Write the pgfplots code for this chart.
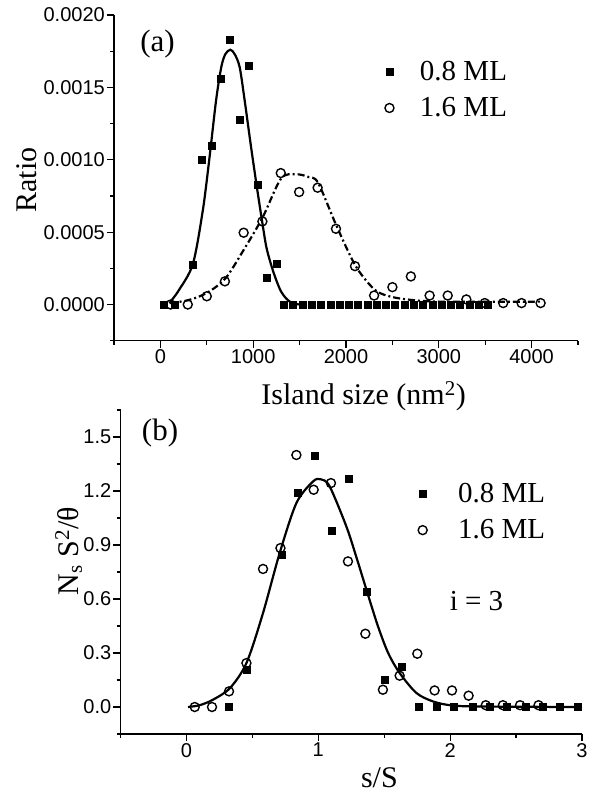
\documentclass[border=0pt]{standalone}
\usepackage{fontspec}
\setmainfont{Liberation Serif}
\setsansfont{Liberation Sans}
\usepackage{pgfplots}
\pgfplotsset{compat=1.18}

\pgfplotsset{
  myaxis/.style={
    scale only axis,
    axis lines*=left,
    tick align=outside,
    axis line style={line width=1.4pt},
    tick style={line width=1.2pt, black},
    major tick length=7pt,
    minor tick length=4pt,
    ticklabel style={font=\sffamily\fontsize{20}{24}\selectfont, inner sep=2pt},
    /pgf/number format/assume math mode=true,
    label style={font=\fontsize{30}{36}\selectfont},
    legend style={draw=none, fill=none, font=\fontsize{29}{35}\selectfont,
      inner sep=0pt, outer sep=0pt, row sep=12pt},
    legend cell align=left,
    clip=false,
  },
  sq/.style={only marks, mark=square*, mark size=3.5pt, black},
  ci/.style={only marks, mark=o, mark size=4.5pt, black, mark options={line width=1.4pt}},
}

\begin{document}
\begin{tikzpicture}
\useasboundingbox (0pt,0pt) rectangle (595pt,-795pt);

% ---------------- panel (a)
\begin{axis}[myaxis,
  at={(114pt,-340.7pt)}, anchor=south west,
  width=464pt, height=325.7pt,
  xmin=-500, xmax=4500, ymin=-0.00025, ymax=0.002,
  xtick={0,1000,2000,3000,4000}, xticklabels={0,1000,2000,3000,4000},
  minor xtick={-500,500,1500,2500,3500,4500},
  ytick={0,0.0005,0.001,0.0015,0.002},
  yticklabels={0.0000,0.0005,0.0010,0.0015,0.0020},
  minor ytick={-0.00025,0.00025,0.00075,0.00125,0.00175},
  scaled y ticks=false,
  xlabel={Island size (nm\textsuperscript{2})},
  ylabel={Ratio},
  xlabel style={at={(axis description cs:0.538,-0.197)}, anchor=base},
  ylabel style={at={(axis description cs:-0.166,0.493)}, anchor=base},
  legend style={at={(axis description cs:0.584,0.771)}, anchor=west, column sep=24pt},
]
\addplot[black, line width=2.2pt, smooth, forget plot] coordinates {
(97,0.00001) (200,0.0001) (350,0.00028) (457,0.00065) (530,0.00102) (600,0.00141)
(656,0.00164) (700,0.00173) (753,0.00176) (800,0.00173) (854,0.00164) (908,0.00141)
(970,0.00112) (1034,0.000835) (1090,0.0006) (1142,0.000396) (1200,0.00026)
(1250,0.000166) (1300,0.00009) (1358,0.00004) (1420,0.00001) (1500,0)};
\addplot[black, line width=2.2pt, smooth, dash pattern=on 7pt off 3pt on 2pt off 3pt, forget plot] coordinates {
(100,0.00001) (300,0.00003) (500,0.00008) (700,0.00018) (900,0.00038) (1100,0.0006)
(1300,0.00087) (1460,0.0009) (1600,0.00088) (1700,0.00084) (1900,0.00054) (2100,0.00027)
(2280,0.00012) (2400,0.00007) (2600,0.00004) (3000,0.00002) (4100,0.00002)};
\addplot[sq] coordinates {
(40,0) (150,0) (350,0.000275) (450,0.001) (550,0.0011) (650,0.00156) (750,0.00183)
(850,0.00128) (950,0.00165) (1050,0.00083) (1150,0.000185) (1250,0.00028)
(1330,0) (1430,0) (1530,0) (1630,0) (1730,0) (1830,0) (1930,0) (2030,0) (2130,0)
(2230,0) (2330,0) (2430,0) (2530,0) (2630,0) (2730,0) (2830,0) (2930,0) (3030,0)
(3130,0) (3230,0) (3330,0) (3430,0) (3530,0)};
\addlegendentry{0.8 ML}
\addplot[ci] coordinates {
(110,0) (295,0) (500,0.000057) (695,0.00016) (897,0.000496) (1099,0.000574)
(1297,0.000908) (1495,0.000777) (1694,0.000807) (1892,0.000523) (2097,0.000265)
(2303,0.000062) (2500,0.00012) (2699,0.000194) (2901,0.000062) (3096,0.000062)
(3297,0.000035) (3495,0.00001) (3694,0.00001) (3892,0.00001) (4097,0.00001)};
\addlegendentry{1.6 ML}
\node[font=\fontsize{31}{36}\selectfont] at (axis cs:-30,0.0018) {(a)};
\end{axis}

% ---------------- panel (b)
\begin{axis}[myaxis,
  at={(120.5pt,-734pt)}, anchor=south west,
  width=461.5pt, height=324pt,
  xmin=-0.5, xmax=3, ymin=-0.15, ymax=1.65,
  xtick={0,1,2,3}, xticklabels={0,1,2,3},
  minor xtick={-0.5,0.5,1.5,2.5},
  ytick={0,0.3,0.6,0.9,1.2,1.5},
  yticklabels={0.0,0.3,0.6,0.9,1.2,1.5},
  minor ytick={-0.15,0.15,0.45,0.75,1.05,1.35,1.65},
  xlabel={s/S},
  ylabel={N\textsubscript{s} S\textsuperscript{2}/θ},
  xlabel style={at={(axis description cs:0.561,-0.166)}, anchor=base},
  ylabel style={at={(axis description cs:-0.092,0.565)}, anchor=base},
  legend style={at={(axis description cs:0.645,0.686)}, anchor=west, column sep=29pt},
]
\addplot[black, line width=2.2pt, smooth, forget plot] coordinates {
(0.012,0) (0.1,0.01) (0.2,0.04) (0.33,0.105) (0.455,0.244) (0.58,0.52) (0.707,0.855)
(0.834,1.133) (0.96,1.253) (1.02,1.265) (1.086,1.226) (1.213,1.003) (1.29,0.83)
(1.37,0.64) (1.453,0.448) (1.53,0.30) (1.617,0.189) (1.744,0.078) (1.87,0.031)
(2.0,0.01) (2.2,0.003) (2.97,0)};
\addplot[sq] coordinates {
(0.32,0) (0.455,0.21) (0.72,0.846) (0.846,1.19) (0.975,1.396) (1.104,0.98)
(1.233,1.267) (1.37,0.64) (1.503,0.152) (1.635,0.222) (1.763,0) (1.9,0) (2.03,0)
(2.17,0) (2.3,0) (2.43,0) (2.57,0) (2.7,0) (2.83,0) (2.97,0)};
\addlegendentry{0.8 ML}
\addplot[ci] coordinates {
(0.063,0) (0.194,0) (0.323,0.087) (0.455,0.244) (0.581,0.767) (0.713,0.883)
(0.834,1.40) (0.965,1.207) (1.096,1.244) (1.225,0.809) (1.357,0.407) (1.49,0.096)
(1.617,0.174) (1.751,0.296) (1.882,0.092) (2.014,0.092) (2.14,0.063) (2.27,0.01)
(2.4,0.01) (2.53,0.01) (2.67,0.01)};
\addlegendentry{1.6 ML}
\node[font=\fontsize{31}{36}\selectfont] at (axis cs:-0.2,1.524) {(b)};
\node[font=\fontsize{29}{35}\selectfont] at (axis cs:2.2,0.59) {i = 3};
\end{axis}
\end{tikzpicture}
\end{document}
